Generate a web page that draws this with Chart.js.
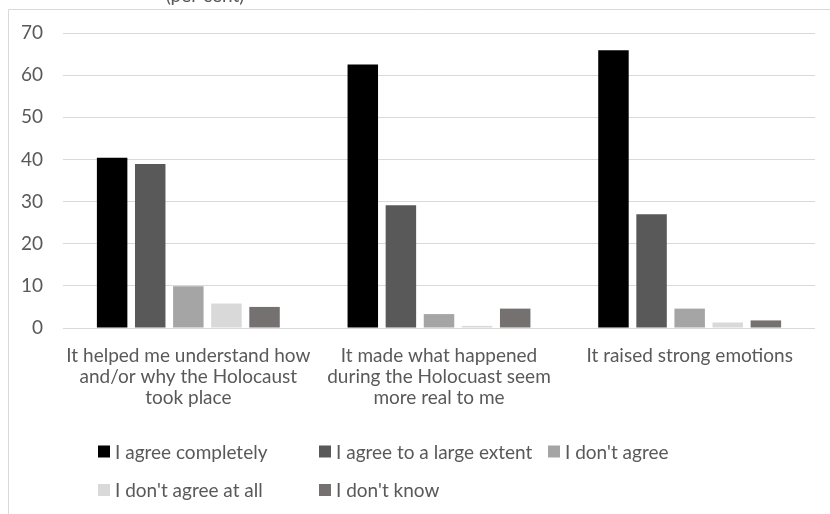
<!DOCTYPE html>
<html>
<head>
<meta charset="utf-8">
<script src="https://cdn.jsdelivr.net/npm/chart.js@4"></script>
<style>
  html, body { margin: 0; padding: 0; background: #ffffff; overflow: hidden; }
  #wrap { position: absolute; left: 0; top: 0; width: 830px; height: 514px; }
</style>
</head>
<body>
<div id="wrap"><canvas id="c" width="830" height="514"></canvas></div>
<script>
const categories = [
  ["It helped me understand how", "and/or why the Holocaust", "took place"],
  ["It made what happened", "during the Holocuast seem", "more real to me"],
  ["It raised strong emotions"]
];
const seriesNames = ["I agree completely", "I agree to a large extent", "I don't agree", "I don't agree at all", "I don't know"];
const agreeCompletely = [40.4, 62.5, 65.9];
const agreeLargeExtent = [38.9, 29.1, 27.0];
const dontAgree = [9.9, 3.3, 4.6];
const dontAgreeAtAll = [5.8, 0.5, 1.3];
const dontKnow = [5.0, 4.6, 1.8];
const yTicks = [0, 10, 20, 30, 40, 50, 60, 70];
const titleText = "(per cent)";

const seriesColors = ["#000000", "#595959", "#a5a5a5", "#d9d9d9", "#767171"];
const FONT = "Lato, 'DejaVu Sans', sans-serif";
const TEXT_COLOR = "#595959";

const seriesValues = [agreeCompletely, agreeLargeExtent, dontAgree, dontAgreeAtAll, dontKnow];

const framePlugin = {
  id: 'frame',
  beforeDraw(chart) {
    const ctx = chart.ctx;
    ctx.save();
    ctx.strokeStyle = '#d9d9d9';
    ctx.lineWidth = 1;
    ctx.beginPath();
    ctx.moveTo(8.5, 514);
    ctx.lineTo(8.5, 9.5);
    ctx.lineTo(830, 9.5);
    ctx.stroke();
    // title, cut off at the top
    ctx.fillStyle = TEXT_COLOR;
    ctx.font = "19px " + FONT;
    ctx.textAlign = 'center';
    ctx.textBaseline = 'alphabetic';
    ctx.fillText(titleText, 205, 2);
    ctx.restore();
  },
  afterDraw(chart) {
    const ctx = chart.ctx;
    ctx.save();
    ctx.font = "19px " + FONT;
    ctx.textAlign = 'left';
    ctx.textBaseline = 'middle';
    const slots = [[98, 451.5], [319, 451.5], [548, 451.5], [98, 490], [319, 490]];
    chart.data.datasets.forEach((ds, i) => {
      const [x, y] = slots[i];
      ctx.fillStyle = ds.backgroundColor;
      ctx.fillRect(x, y - 6, 12, 12);
      ctx.fillStyle = TEXT_COLOR;
      ctx.fillText(ds.label, x + 17, y + 1);
    });
    ctx.restore();
  }
};

new Chart(document.getElementById('c'), {
  type: 'bar',
  data: {
    labels: categories,
    datasets: seriesNames.map((name, i) => ({
      label: name,
      data: seriesValues[i],
      backgroundColor: seriesColors[i],
      borderWidth: 0,
      categoryPercentage: 0.76,
      barPercentage: 0.8
    }))
  },
  options: {
    responsive: false,
    animation: false,
    devicePixelRatio: 1,
    layout: { padding: { left: 8, right: 15, top: 33, bottom: 96 } },
    plugins: {
      legend: { display: false },
      tooltip: { enabled: false },
      title: { display: false }
    },
    scales: {
      x: {
        grid: { display: false, drawTicks: false },
        border: { display: false },
        ticks: {
          color: TEXT_COLOR,
          font: { family: FONT, size: 19, lineHeight: 1.12 },
          padding: 17,
          maxRotation: 0,
          autoSkip: false
        },
        afterFit(scale) { scale.height = 90; }
      },
      y: {
        min: 0,
        max: 70,
        afterBuildTicks(scale) { scale.ticks = yTicks.map(v => ({ value: v })); },
        grid: { color: '#d9d9d9', lineWidth: 1, drawTicks: false },
        border: { display: false },
        ticks: {
          color: TEXT_COLOR,
          font: { family: FONT, size: 19 },
          padding: 20
        },
        afterFit(scale) { scale.width = 55; }
      }
    }
  },
  plugins: [framePlugin]
});
</script>
</body>
</html>
